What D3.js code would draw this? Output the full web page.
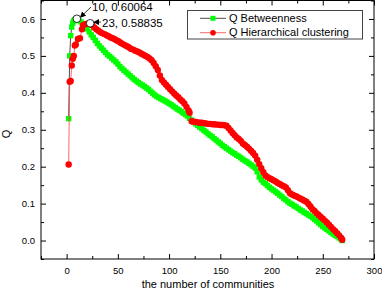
<html>
<head>
    <title>Q vs number of communities</title>
    <script type="text/javascript" src="https://d3js.org/d3.v7.min.js"></script>
    <style type="text/css">
        body {
            margin: 0;
            padding: 0;
            background: white;
        }
        svg text {
            font-family: Arial, 'Liberation Sans', Helvetica, sans-serif;
            fill: black;
        }
        svg .tick-label {
            font-size: 9.5px;
        }
        svg .axis-title {
            font-size: 11px;
        }
        svg .legend-text {
            font-size: 11px;
        }
        svg .note {
            font-size: 11.5px;
        }
    </style>
</head>
<body>
    <div id="svg-container"></div>

    <script type="text/javascript">
    // Q Betweenness (green squares)
    var btw_n = [2, 3, 4, 5, 6, 7, 8, 9,
        10, 12, 14, 16, 18, 20, 22, 24, 26, 28, 30, 32, 34, 36, 38, 40, 42, 44, 46, 48,
        50, 52, 54, 56, 58, 60, 62, 64, 66, 68, 70, 72, 74, 76, 78, 80, 82, 84, 86, 88,
        90, 92, 94, 96, 98, 100, 102, 104, 106, 108, 110, 112, 114, 116, 118, 120, 122, 124, 126, 128,
        130, 132, 134, 136, 138, 140, 142, 144, 146, 148, 150, 152, 154, 156, 158, 160, 162, 164, 166, 168,
        170, 172, 174, 176, 178, 180, 182, 184, 186, 188, 190, 192, 194, 196, 198, 200, 202, 204, 206, 208,
        210, 212, 214, 216, 218, 220, 222, 224, 226, 228, 230, 232, 234, 236, 238, 240, 242, 244, 246, 248,
        250, 252, 254, 256, 258, 260, 262, 264, 266, 268, 269];
    var btw_q = [0.33, 0.50, 0.555, 0.578, 0.589, 0.595, 0.598, 0.600,
        0.60064, 0.596, 0.592, 0.586, 0.580, 0.573, 0.565, 0.557, 0.550, 0.542, 0.534, 0.527, 0.521, 0.515, 0.509, 0.503, 0.499, 0.494, 0.489, 0.484,
        0.478, 0.471, 0.466, 0.461, 0.456, 0.451, 0.446, 0.441, 0.436, 0.432, 0.428, 0.424, 0.421, 0.417, 0.413, 0.409, 0.404, 0.399, 0.394, 0.390,
        0.387, 0.384, 0.381, 0.378, 0.375, 0.371, 0.368, 0.364, 0.360, 0.356, 0.353, 0.349, 0.345, 0.341, 0.337, 0.331, 0.326, 0.321, 0.316, 0.312,
        0.307, 0.303, 0.298, 0.294, 0.289, 0.285, 0.281, 0.276, 0.272, 0.267, 0.263, 0.258, 0.254, 0.250, 0.246, 0.242, 0.238, 0.235, 0.231, 0.228,
        0.224, 0.220, 0.216, 0.213, 0.209, 0.205, 0.201, 0.196, 0.186, 0.172, 0.164, 0.158, 0.154, 0.149, 0.144, 0.140, 0.136, 0.132, 0.128, 0.123,
        0.119, 0.114, 0.110, 0.105, 0.101, 0.098, 0.094, 0.091, 0.087, 0.083, 0.080, 0.076, 0.073, 0.069, 0.066, 0.062, 0.057, 0.053, 0.048, 0.043,
        0.038, 0.034, 0.030, 0.026, 0.022, 0.018, 0.014, 0.011, 0.007, 0.003, 0.000];

    // Q Hierarchical clustering (red circles)
    var hc_n = [2, 3, 4, 5, 6, 7, 8, 9, 11, 13, 15, 16, 18, 20,
        23, 25, 27, 29, 31, 33, 35, 37, 39, 41, 43, 45, 47, 49, 51, 53, 55, 57, 59, 61, 63, 65, 67, 69,
        71, 73, 75, 77, 79, 81, 83, 85, 87, 89, 91, 93, 95, 97, 99, 101, 103, 105, 107, 109, 111, 113, 115, 117, 119, 120,
        122, 124, 126, 128, 130, 132, 134, 136, 138, 140, 142, 144, 146, 148, 150, 152, 154, 156, 158, 160,
        162, 164, 166, 168, 170, 172, 174, 176, 178, 180, 182, 184, 186, 188, 190, 192, 194, 196, 198, 200,
        202, 204, 206, 208, 210, 212, 214, 216, 218, 220, 222, 224, 226, 228, 230, 232, 234, 236, 238, 240,
        242, 244, 246, 248, 250, 252, 254, 256, 258, 260, 262, 264, 266, 268, 269];
    var hc_q = [0.206, 0.430, 0.432, 0.474, 0.492, 0.500, 0.528, 0.531, 0.546, 0.548, 0.572, 0.583, 0.586, 0.587,
        0.58835, 0.583, 0.577, 0.572, 0.568, 0.564, 0.561, 0.559, 0.556, 0.553, 0.550, 0.548, 0.545, 0.542, 0.539, 0.535, 0.532, 0.529, 0.526, 0.523, 0.519, 0.517, 0.514, 0.512,
        0.509, 0.506, 0.503, 0.500, 0.497, 0.493, 0.488, 0.481, 0.472, 0.462, 0.447, 0.435, 0.428, 0.422, 0.416, 0.410, 0.404, 0.398, 0.393, 0.388, 0.382, 0.377, 0.371, 0.362, 0.352, 0.346,
        0.323, 0.322, 0.321, 0.320, 0.319, 0.319, 0.318, 0.317, 0.316, 0.316, 0.315, 0.315, 0.314, 0.314, 0.313, 0.313, 0.312, 0.311, 0.305, 0.298,
        0.291, 0.285, 0.279, 0.275, 0.270, 0.263, 0.259, 0.254, 0.249, 0.243, 0.237, 0.230, 0.219, 0.207, 0.196, 0.185, 0.176, 0.172, 0.169, 0.166,
        0.163, 0.160, 0.156, 0.153, 0.150, 0.147, 0.144, 0.136, 0.128, 0.125, 0.122, 0.120, 0.117, 0.114, 0.111, 0.108, 0.105, 0.099, 0.092, 0.085,
        0.080, 0.074, 0.069, 0.064, 0.059, 0.054, 0.049, 0.043, 0.037, 0.031, 0.026, 0.020, 0.014, 0.007, 0.002];

    var series_names = ['Q Betweenness', 'Q Hierarchical clustering'];
    var x_ticks = [0, 50, 100, 150, 200, 250, 300];
    var y_ticks = [0.0, 0.1, 0.2, 0.3, 0.4, 0.5, 0.6];
    var notes = [
        {n: 10, q: 0.60064, label: '10, 0.60064'},
        {n: 23, q: 0.58835, label: '23, 0.58835'}
    ];

    var SVG_WIDTH = 382;
    var SVG_HEIGHT = 290;
    var PLOT_LEFT = 41;
    var PLOT_RIGHT = 374;
    var PLOT_TOP = 0.5;
    var PLOT_BOTTOM = 259;
    var MAJOR_TICK = 5;
    var MINOR_TICK = 3;

    var svg = d3.select('#svg-container')
                .append('svg')
                .attr('width', SVG_WIDTH)
                .attr('height', SVG_HEIGHT);

    var x = d3.scaleLinear().domain([-25, 300]).range([PLOT_LEFT, PLOT_RIGHT]);
    var y = d3.scaleLinear().domain([-0.05, 0.65]).range([PLOT_BOTTOM, PLOT_TOP]);

    svg.append('defs').append('marker')
        .attr('id', 'arrow')
        .attr('viewBox', '0 0 10 10')
        .attr('refX', 10)
        .attr('refY', 5)
        .attr('markerWidth', 6)
        .attr('markerHeight', 6)
        .attr('markerUnits', 'userSpaceOnUse')
        .attr('orient', 'auto')
        .append('path')
        .attr('d', 'M0,0 L10,5 L0,10 z')
        .attr('fill', 'black');

    // frame + ticks (all four sides, ticks pointing in)
    var x_minor = d3.range(-25, 301, 25).filter(function(d){ return d % 50 !== 0; });
    var y_minor = d3.range(-0.05, 0.66, 0.1).map(function(d){ return +d.toFixed(2); });

    svg.append('g').attr('transform', 'translate(0,' + PLOT_BOTTOM + ')')
        .call(d3.axisBottom(x).tickValues(x_ticks).tickSize(-MAJOR_TICK).tickPadding(8).tickFormat(d3.format('d')));
    svg.append('g').attr('transform', 'translate(0,' + PLOT_BOTTOM + ')')
        .call(d3.axisBottom(x).tickValues(x_minor).tickSize(-MINOR_TICK).tickFormat(''));
    svg.append('g').attr('transform', 'translate(0,' + PLOT_TOP + ')')
        .call(d3.axisTop(x).tickValues(x_ticks).tickSize(-MAJOR_TICK).tickFormat(''));
    svg.append('g').attr('transform', 'translate(0,' + PLOT_TOP + ')')
        .call(d3.axisTop(x).tickValues(x_minor).tickSize(-MINOR_TICK).tickFormat(''));

    svg.append('g').attr('transform', 'translate(' + PLOT_LEFT + ',0)')
        .call(d3.axisLeft(y).tickValues(y_ticks).tickSize(-MAJOR_TICK).tickPadding(6).tickFormat(d3.format('.1f')));
    svg.append('g').attr('transform', 'translate(' + PLOT_LEFT + ',0)')
        .call(d3.axisLeft(y).tickValues(y_minor).tickSize(-MINOR_TICK).tickFormat(''));
    svg.append('g').attr('transform', 'translate(' + PLOT_RIGHT + ',0)')
        .call(d3.axisRight(y).tickValues(y_ticks).tickSize(-MAJOR_TICK).tickFormat(''));
    svg.append('g').attr('transform', 'translate(' + PLOT_RIGHT + ',0)')
        .call(d3.axisRight(y).tickValues(y_minor).tickSize(-MINOR_TICK).tickFormat(''));

    svg.selectAll('.domain').remove();
    svg.selectAll('.tick line').attr('stroke', 'black');
    svg.selectAll('.tick text').attr('class', 'tick-label').attr('font-family', null).attr('font-size', null);

    svg.append('rect')
        .attr('x', PLOT_LEFT)
        .attr('y', PLOT_TOP)
        .attr('width', PLOT_RIGHT - PLOT_LEFT)
        .attr('height', PLOT_BOTTOM - PLOT_TOP)
        .attr('fill', 'none')
        .attr('stroke', 'black')
        .attr('stroke-width', 1);

    // axis titles
    svg.append('text')
        .attr('class', 'axis-title')
        .attr('x', 208)
        .attr('y', 288)
        .attr('text-anchor', 'middle')
        .text('the number of communities');
    svg.append('text')
        .attr('class', 'axis-title')
        .attr('transform', 'translate(10,134) rotate(-90)')
        .attr('text-anchor', 'middle')
        .text('Q');

    var line = d3.line()
        .x(function(d){ return x(d[0]); })
        .y(function(d){ return y(d[1]); });

    var btw = d3.zip(btw_n, btw_q);
    var hc = d3.zip(hc_n, hc_q);

    // Betweenness: black line, green squares
    svg.append('path')
        .datum(btw)
        .attr('d', line)
        .attr('fill', 'none')
        .attr('stroke', '#222')
        .attr('stroke-width', 0.8);
    svg.selectAll('rect.btw')
        .data(btw)
        .enter()
        .append('rect')
        .attr('class', 'btw')
        .attr('x', function(d){ return x(d[0]) - 2.7; })
        .attr('y', function(d){ return y(d[1]) - 2.7; })
        .attr('width', 5.4)
        .attr('height', 5.4)
        .attr('fill', '#00ff00');

    // Hierarchical clustering: red line, red circles
    svg.append('path')
        .datum(hc)
        .attr('d', line)
        .attr('fill', 'none')
        .attr('stroke', '#ff4040')
        .attr('stroke-width', 0.8);
    svg.selectAll('circle.hc')
        .data(hc)
        .enter()
        .append('circle')
        .attr('class', 'hc')
        .attr('cx', function(d){ return x(d[0]); })
        .attr('cy', function(d){ return y(d[1]); })
        .attr('r', 3.2)
        .attr('fill', '#ff0000');

    // peak annotations
    var note_text = [[92, 11], [102, 27]];
    svg.selectAll('line.note')
        .data(notes)
        .enter()
        .append('line')
        .attr('x1', function(d, i){ return note_text[i][0] - 1; })
        .attr('y1', function(d, i){ return note_text[i][1] - (i === 0 ? 4 : 5); })
        .attr('x2', function(d){ return x(d.n) + 3; })
        .attr('y2', function(d){ return y(d.q) - 1; })
        .attr('stroke', 'black')
        .attr('stroke-width', 0.8)
        .attr('marker-end', 'url(#arrow)');
    svg.selectAll('circle.note')
        .data(notes)
        .enter()
        .append('circle')
        .attr('cx', function(d){ return x(d.n); })
        .attr('cy', function(d){ return y(d.q); })
        .attr('r', 3.8)
        .attr('fill', 'white')
        .attr('stroke', 'black')
        .attr('stroke-width', 0.8);
    svg.selectAll('text.note')
        .data(notes)
        .enter()
        .append('text')
        .attr('class', 'note')
        .attr('x', function(d, i){ return note_text[i][0]; })
        .attr('y', function(d, i){ return note_text[i][1]; })
        .text(function(d){ return d.label; });

    // legend
    var legend = svg.append('g');
    legend.append('rect')
        .attr('x', 187.5)
        .attr('y', 10.5)
        .attr('width', 175)
        .attr('height', 28.5)
        .attr('fill', 'white')
        .attr('stroke', '#444')
        .attr('stroke-width', 1);
    var legend_rows = legend.selectAll('g.row')
        .data(series_names)
        .enter()
        .append('g')
        .attr('transform', function(d, i){ return 'translate(0,' + (18.3 + i * 14.4) + ')'; });
    legend_rows.append('line')
        .attr('x1', 200)
        .attr('x2', 226)
        .attr('y1', 0)
        .attr('y2', 0)
        .attr('stroke', function(d, i){ return i === 0 ? '#222' : '#ff4040'; })
        .attr('stroke-width', 0.8);
    legend_rows.filter(function(d, i){ return i === 0; })
        .append('rect')
        .attr('x', 210.5)
        .attr('y', -2.5)
        .attr('width', 5)
        .attr('height', 5)
        .attr('fill', '#00ff00');
    legend_rows.filter(function(d, i){ return i === 1; })
        .append('circle')
        .attr('cx', 213)
        .attr('cy', 0)
        .attr('r', 2.8)
        .attr('fill', '#ff0000');
    legend_rows.append('text')
        .attr('class', 'legend-text')
        .attr('x', 229)
        .attr('y', 3.6)
        .text(function(d){ return d; });
    </script>
</body>
</html>
